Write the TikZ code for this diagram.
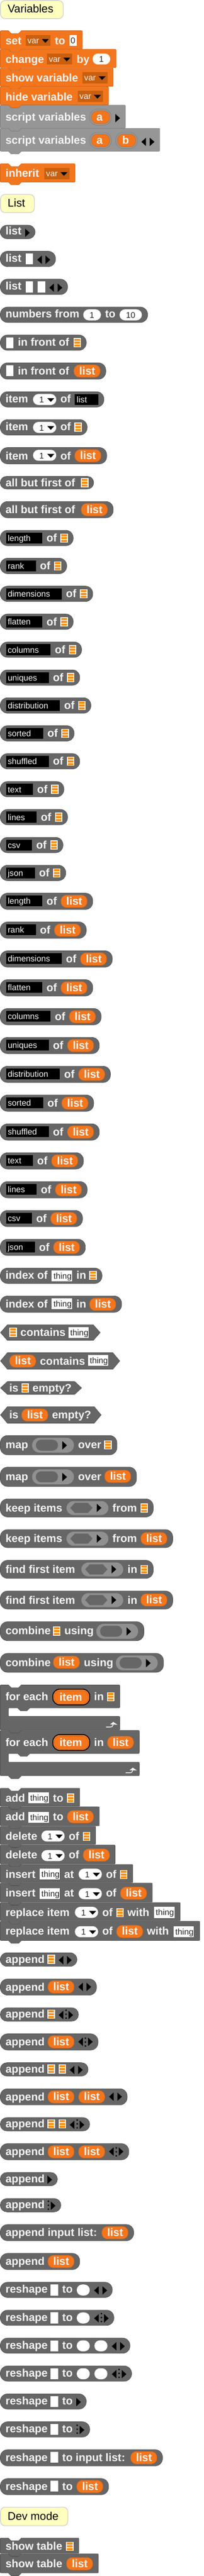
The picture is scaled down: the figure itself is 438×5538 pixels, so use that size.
\documentclass[tikz,border=0pt]{standalone}
\usepackage{fontspec}
\setmainfont{Liberation Sans}
\definecolor{bGray}{HTML}{666666}
\definecolor{bGrayD}{HTML}{555555}
\definecolor{bOrg}{HTML}{F3761D}
\definecolor{bOrgD}{HTML}{D5661A}
\definecolor{bSv}{HTML}{969696}
\definecolor{bSvD}{HTML}{808080}
\definecolor{bSlot}{HTML}{C8600F}
\definecolor{bRing}{HTML}{909090}
\definecolor{bIcon}{HTML}{FF8C00}
\definecolor{bTag}{HTML}{FFFFC0}
\definecolor{bTagD}{HTML}{D2D2D2}
\definecolor{bTxt}{HTML}{F4F4F4}
\newcount\snc
\tikzset{
 lab/.style={anchor=base west,inner sep=0pt,outer sep=0pt,text=bTxt,font=\fontsize{23.6}{24}\selectfont\bfseries},
 labc/.style={anchor=base,inner sep=0pt,outer sep=0pt,text=bTxt,font=\fontsize{23.6}{24}\selectfont\bfseries},
 inw/.style={anchor=base west,inner sep=0pt,outer sep=0pt,text=bTxt,font=\fontsize{18}{20}\selectfont},
 ink/.style={anchor=base west,inner sep=0pt,outer sep=0pt,text=black!85,font=\fontsize{18}{20}\selectfont},
 inc/.style={anchor=base,inner sep=0pt,outer sep=0pt,text=black!85,font=\fontsize{18}{20}\selectfont},
 tagt/.style={anchor=base west,inner sep=0pt,outer sep=0pt,text=black,font=\fontsize{24}{25}\selectfont},
 gb/.style={fill=bGray,draw=bGrayD,line width=0.8pt},
 ob/.style={fill=bOrg,draw=bOrgD,line width=0.8pt},
 sb/.style={fill=bSv,draw=bSvD,line width=0.8pt},
}
% text
\newcommand{\snT}[4]{\global\advance\snc by 1 \node[#1] (t\the\snc) at ({#2},{#3}) {#4};}
\newcommand{\snLab}[3]{\snT{lab}{#1}{#2}{#3}}
% shapes
\newcommand{\snRep}[3]{\pgfmathsetmacro\snr{min(16,(#2-#1)/2)}\draw[gb,rounded corners=\snr pt] (0.5,#1) rectangle (#3,#2);}
\newcommand{\snHex}[3]{\draw[gb,line join=round] (1,{(#1+#2)/2}) -- (16,#1) -- ({#3-15},#1) -- (#3,{(#1+#2)/2}) -- ({#3-15},#2) -- (16,#2) -- cycle;}
\newcommand{\snCmd}[4]{\draw[#1,line join=round] (4.5,#2) -- (18,#2) -- (24,{#2+6}) -- (40,{#2+6}) -- (46,#2) -- ({#4-4},#2) .. controls (#4,#2) .. (#4,{#2+4}) -- (#4,{#3-4}) .. controls (#4,#3) .. ({#4-4},#3) -- (46,#3) -- (40,{#3+6}) -- (24,{#3+6}) -- (18,#3) -- (4.5,#3) .. controls (0.5,#3) .. (0.5,{#3-4}) -- (0.5,{#2+4}) .. controls (0.5,#2) .. (4.5,#2) -- cycle;}
\newcommand{\snCee}[5]{\draw[gb,line join=round] (4.5,#1) -- (18,#1) -- (24,{#1+6}) -- (40,{#1+6}) -- (46,#1) -- ({#5-4},#1) .. controls (#5,#1) .. (#5,{#1+4}) -- (#5,{#2-4}) .. controls (#5,#2) .. ({#5-4},#2) -- (64,#2) -- (58,{#2+6}) -- (44,{#2+6}) -- (38,#2) -- (22,#2) .. controls (18,#2) .. (18,{#2+4}) -- (18,{#3-4}) .. controls (18,#3) .. (22,#3) -- ({#5-4},#3) .. controls (#5,#3) .. (#5,{#3+4}) -- (#5,{#4-4}) .. controls (#5,#4) .. ({#5-4},#4) -- (46,#4) -- (40,{#4+6}) -- (24,{#4+6}) -- (18,#4) -- (4.5,#4) .. controls (0.5,#4) .. (0.5,{#4-4}) -- (0.5,{#1+4}) .. controls (0.5,#1) .. (4.5,#1) -- cycle;
 \draw[bTxt,line width=1.6pt] ({#5-29.5},{#4-6.6}) -- ({#5-20},{#4-6.6}) .. controls ({#5-16},{#4-6.6}) and ({#5-15},{#4-9}) .. ({#5-14},{#4-12});
 \fill[bTxt] ({#5-21},{#4-12}) -- ({#5-14},{#4-17.5}) -- ({#5-5},{#4-11.5}) -- cycle;}
\newcommand{\snTag}[4]{\draw[fill=bTag,draw=bTagD,line width=1.5pt,rounded corners=10pt] (1,#2) rectangle (#1,#3);\snT{tagt}{16.5}{#3-12.6}{#4}}
\newcommand{\snWh}[3]{\fill[white] (#1,#3) rectangle ({#2},{#3+23.7});}
\newcommand{\snThing}[2]{\snWh{#1}{#1+44}{#2}\snT{ink}{#1+4}{#2+18.5}{thing}}
\newcommand{\snIcon}[2]{\fill[white] (#1,#2) rectangle ({#1+16},{#2+19.4});
 \fill[bIcon] ({#1+2},{#2+1.6}) rectangle ({#1+14},{#2+5.8}) ({#1+2},{#2+7.6}) rectangle ({#1+14},{#2+12}) ({#1+2},{#2+13.8}) rectangle ({#1+14},{#2+18});}
\newcommand{\snOp}[2]{\draw[ob,rounded corners=12pt] (#1,#2) rectangle ({#1+56.3},{#2+26.7});\snLab{#1+11.5}{#2+21}{list}}
\newcommand{\snBlk}[3]{\fill[black] (13,#2) rectangle (#1,{#2+23.7});\snT{inw}{16.7}{#2+18.5}{#3}}
\newcommand{\snDD}[2]{\fill[white,rounded corners=11.8pt] (#1,#2) rectangle ({#1+50},{#2+23.7});\snT{inc}{#1+18.5}{#2+19}{1}\fill[black] ({#1+30.7},{#2+9}) -- ({#1+45.7},{#2+9}) -- ({#1+38.2},{#2+17}) -- cycle;}
\newcommand{\snPill}[3]{\fill[white,rounded corners=11.8pt] (#1,#3) rectangle (#2,{#3+23.7});}
\newcommand{\snVar}[2]{\fill[bSlot] (#1,#2) rectangle ({#1+54},{#2+24});\snT{inw}{#1+4}{#2+18.5}{var}\fill[black] ({#1+35},{#2+9}) -- ({#1+50},{#2+9}) -- ({#1+42.5},{#2+17}) -- cycle;}
\newcommand{\snLa}[2]{\fill[black] (#1,{#2+9}) -- ({#1+10},#2) -- ({#1+10},{#2+18}) -- cycle;}
\newcommand{\snRa}[2]{\fill[black] ({#1+10},{#2+9}) -- (#1,#2) -- (#1,{#2+18}) -- cycle;}
\newcommand{\snDots}[2]{\fill[black] (#1,#2) circle (1.9) (#1,{#2+8.4}) circle (1.9) (#1,{#2+16.8}) circle (1.9);}
\newcommand{\snUp}[3]{\draw[fill=bSv,draw=bSvD,line width=0.8pt,rounded corners=17pt] (#1,#2) rectangle ({#1+47},{#2+35});
 \draw[ob,rounded corners=13pt] ({#1+4},{#2+4}) rectangle ({#1+43.5},{#2+31});\snT{labc}{#1+21.5}{#2+25.5}{#3}}
\newcommand{\snRingO}[2]{\fill[bRing,rounded corners=16pt] (#1,#2) rectangle ({#1+90},{#2+32});
 \fill[bGray,rounded corners=11.8pt] ({#1+8},{#2+4}) rectangle ({#1+55.7},{#2+27.7});\snRa{#1+65}{#2+7.3}}
\newcommand{\snRingH}[2]{\fill[bRing,rounded corners=15pt] (#1,#2) rectangle ({#1+90},{#2+30});
 \fill[bGray] ({#1+8},{#2+14.8}) -- ({#1+18},{#2+4}) -- ({#1+46},{#2+4}) -- ({#1+56},{#2+14.8}) -- ({#1+46},{#2+25.7}) -- ({#1+18},{#2+25.7}) -- cycle;\snRa{#1+65}{#2+5.7}}
\newcommand{\snEach}[1]{\draw[fill=bOrg,draw=black,line width=1.8pt,rounded corners=15pt] (113.5,#1) rectangle (193,{#1+34});
 \draw[ob,rounded corners=13pt] (116.7,{#1+4}) rectangle (190,{#1+31.4});\snLab{128}{#1+25.4}{item}}
% rows
\newcommand{\snOfIcon}[3]{\snRep{#1}{#1+33.3}{#2+66.5}\snBlk{#2}{#1+5}{#3}\snLab{#2+9}{#1+24.7}{of}\snIcon{#2+39}{#1+7}}
\newcommand{\snOfList}[3]{\snRep{#1}{#1+35.3}{#2+108.5}\snBlk{#2}{#1+5}{#3}\snLab{#2+9}{#1+26}{of}\snOp{#2+40}{#1+4.3}}
\begin{document}
\begin{tikzpicture}[x=1pt,y=-1pt]
\useasboundingbox (0,0) rectangle (438,5538);
\fill[white] (0,0) rectangle (438,5538);
% ---- Variables
\snTag{136}{1}{40}{Variables}
\snCmd{ob}{66}{105.5}{177}\snLab{12}{95.7}{set}\snVar{55}{75}\snLab{118}{95.7}{to}\fill[white] (149,75) rectangle (165,99);\snT{inc}{157}{94}{0}
\snCmd{ob}{106}{145.5}{249.5}\snLab{12}{136}{change}\snVar{101}{115}\snLab{165}{136}{by}\snPill{199}{237}{115}\snT{inc}{218}{134}{1}
\snCmd{ob}{146.5}{185.5}{243.5}\snLab{12}{176}{show variable}\snVar{177}{155}
\snCmd{ob}{186.5}{225.5}{233.5}\snLab{12}{216}{hide variable}\snVar{167}{195}
\snCmd{sb}{226}{275.5}{269.5}\snLab{12}{259.5}{script variables}\snUp{192.5}{234.5}{a}\snRa{248}{245}
\snCmd{sb}{276}{325}{343.5}\snLab{12}{309.5}{script variables}\snUp{192.5}{284.5}{a}\snUp{248.5}{284.5}{b}\snLa{304}{296}\snRa{322}{296}
\snCmd{ob}{352}{391.5}{161.5}\snLab{12}{381}{inherit}\snVar{95}{361}
\snTag{74}{418}{457}{List}
% ---- list
\snRep{484}{513.3}{75.5}\snLab{12}{505}{list}\snRa{54}{491.5}
\snRep{540}{573.3}{119.5}\snLab{12}{563.3}{list}\snWh{55}{71}{545}\snLa{80}{549.5}\snRa{98}{549.5}
\snRep{600}{633.3}{145.5}\snLab{12}{623.3}{list}\snWh{55}{71}{605}\snWh{81}{97}{605}\snLa{106}{609.5}\snRa{124}{609.5}
\snRep{660}{693.3}{317.5}\snLab{12}{683.3}{numbers from}\snPill{179}{217}{665}\snT{inc}{197.5}{684}{1}\snLab{226}{683.3}{to}\snPill{257}{305}{665}\snT{inc}{281}{684}{10}
\snRep{720}{753.3}{185.5}\snWh{13}{29}{725}\snLab{38.5}{743.3}{in front of}\snIcon{158}{727}
\snRep{780}{815.3}{227.5}\snWh{13}{29}{785}\snLab{38.5}{805.3}{in front of}\snOp{159}{784.3}
\snRep{842}{875.3}{223.5}\snLab{12}{865.3}{item}\snDD{71}{847}\snLab{130}{865.3}{of}\fill[black] (161,847) rectangle (211,870.7);\snT{inw}{165}{865.5}{list}
\snRep{902}{935.3}{187.5}\snLab{12}{925.3}{item}\snDD{71}{907}\snLab{130}{925.3}{of}\snIcon{160}{908.3}
\snRep{962}{997.3}{229.5}\snLab{12}{988}{item}\snDD{71}{967}\snLab{130}{988}{of}\snOp{160.7}{966.3}
\snRep{1024}{1051.3}{201.5}\snLab{12}{1046}{all but first of}\snIcon{174}{1028}
\snRep{1078}{1113.3}{243.5}\snLab{12}{1104}{all but first of}\snOp{174.7}{1082.3}
% ---- X of icon
\snOfIcon{1140}{91}{length}
\snOfIcon{1200}{77}{rank}
\snOfIcon{1260}{133}{dimensions}
\snOfIcon{1320}{91}{flatten}
\snOfIcon{1380}{109}{columns}
\snOfIcon{1440}{105}{uniques}
\snOfIcon{1500}{129}{distribution}
\snOfIcon{1560}{93}{sorted}
\snOfIcon{1620}{105}{shuffled}
\snOfIcon{1680}{71}{text}
\snOfIcon{1740}{79}{lines}
\snOfIcon{1800}{69}{csv}
\snOfIcon{1860}{75}{json}
% ---- X of list
\snOfList{1920}{91}{length}
\snOfList{1982}{77}{rank}
\snOfList{2044}{133}{dimensions}
\snOfList{2106}{91}{flatten}
\snOfList{2168}{109}{columns}
\snOfList{2230}{105}{uniques}
\snOfList{2292}{129}{distribution}
\snOfList{2354}{93}{sorted}
\snOfList{2416}{105}{shuffled}
\snOfList{2478}{71}{text}
\snOfList{2540}{79}{lines}
\snOfList{2602}{69}{csv}
\snOfList{2664}{75}{json}
% ---- index / contains / empty
\snRep{2726}{2759.3}{219.5}\snLab{12}{2750}{index of}\snThing{111}{2731}\snLab{164.3}{2750}{in}\snIcon{192}{2732.3}
\snRep{2786}{2821.3}{261.5}\snLab{12}{2812}{index of}\snThing{111}{2791}\snLab{164.3}{2812}{in}\snOp{192.7}{2790.7}
\snHex{2848}{2881.7}{215.5}\snIcon{20}{2854.3}\snLab{44}{2872}{contains}\snThing{147}{2853}
\snHex{2908}{2943.7}{257.5}\snOp{20.7}{2912.7}\snLab{86}{2934}{contains}\snThing{189}{2913}
\snHex{2970}{2997.7}{175.5}\snLab{20}{2991.7}{is}\snIcon{46}{2974.3}\snLab{70}{2991.7}{empty?}
\snHex{3024}{3059.7}{217.5}\snLab{20}{3050}{is}\snOp{46.7}{3028.7}\snLab{112}{3050}{empty?}
% ---- map etc
\snRep{3086}{3127.7}{251.5}\snLab{12}{3114.3}{map}\snRingO{69}{3091}\snLab{168}{3114.3}{over}\snIcon{224}{3096.3}
\snRep{3154}{3195.7}{293.5}\snLab{12}{3182.3}{map}\snRingO{69}{3159}\snLab{168}{3182.3}{over}\snOp{225}{3160.7}
\snRep{3222.3}{3261.3}{329.5}\snLab{12}{3250}{keep items}\snRingH{143}{3227}\snLab{242}{3250}{from}\snIcon{302}{3232.3}
\snRep{3288.3}{3327.3}{371.5}\snLab{12}{3316}{keep items}\snRingH{143}{3293}\snLab{242}{3316}{from}\snOp{302.7}{3294.3}
\snRep{3354.3}{3393.3}{329.5}\snLab{12}{3382}{find first item}\snRingH{175}{3359}\snLab{274.3}{3382}{in}\snIcon{302}{3364.3}
\snRep{3420.3}{3459.3}{371.5}\snLab{12}{3448}{find first item}\snRingH{175}{3425}\snLab{274.3}{3448}{in}\snOp{302.7}{3426.3}
\snRep{3486.3}{3527.3}{309.5}\snLab{12}{3514}{combine}\snIcon{114}{3496.7}\snLab{138.5}{3514}{using}\snRingO{207}{3491}
\snRep{3554.3}{3595.3}{351.5}\snLab{12}{3582}{combine}\snOp{114.7}{3560.3}\snLab{180.5}{3582}{using}\snRingO{249}{3559}
% ---- for each
\snCee{3622.3}{3671.7}{3690}{3719.3}{257.5}\snLab{12}{3655.7}{for each}\snEach{3631.3}\snLab{202.3}{3655.7}{in}\snIcon{230}{3638}
\snCee{3720}{3769.7}{3788.3}{3817.7}{299.5}\snLab{12}{3753.7}{for each}\snEach{3729}\snLab{202.3}{3753.7}{in}\snOp{231}{3732.7}
% ---- commands
\snCmd{gb}{3844.3}{3883.3}{171.5}\snLab{12}{3873.7}{add}\snThing{61}{3853.3}\snLab{114}{3873.7}{to}\snIcon{144}{3856}
\snCmd{gb}{3884.3}{3925.3}{213.5}\snLab{12}{3914}{add}\snThing{61}{3895.3}\snLab{114}{3914}{to}\snOp{144.7}{3892.3}
\snCmd{gb}{3926.3}{3965.3}{205.5}\snLab{12}{3955.7}{delete}\snDD{89}{3935.3}\snLab{148}{3955.7}{of}\snIcon{178}{3938.3}
\snCmd{gb}{3966.3}{4007.3}{247.5}\snLab{12}{3995.7}{delete}\snDD{89}{3977.3}\snLab{148}{3995.7}{of}\snOp{179}{3974.7}
\snCmd{gb}{4008.3}{4047.3}{285.5}\snLab{12}{4037.7}{insert}\snThing{85}{4017.3}\snLab{138}{4037.7}{at}\snDD{169}{4017.3}\snLab{228}{4037.7}{of}\snIcon{258}{4020.3}
\snCmd{gb}{4048.3}{4089.3}{327.5}\snLab{12}{4077.7}{insert}\snThing{85}{4059.3}\snLab{138}{4077.7}{at}\snDD{169}{4059.3}\snLab{228}{4077.7}{of}\snOp{259}{4056.7}
\snCmd{gb}{4090.3}{4129.3}{387.5}\snLab{12}{4119.7}{replace item}\snDD{161}{4099.3}\snLab{220}{4119.7}{of}\snIcon{250}{4102.3}\snLab{274}{4119.7}{with}\snThing{331}{4099.3}
\snCmd{gb}{4130.3}{4171.7}{429.5}\snLab{12}{4160}{replace item}\snDD{161}{4141}\snLab{220}{4160}{of}\snOp{250.7}{4139}\snLab{316}{4160}{with}\snThing{373}{4141}
% ---- append
\snRep{4198}{4227.3}{165.5}\snLab{12}{4220}{append}\snIcon{102}{4202.3}\snLa{126}{4205}\snRa{144}{4205}
\snRep{4254.3}{4289.3}{207.5}\snLab{12}{4280}{append}\snOp{103}{4258.3}\snLa{168.3}{4262.5}\snRa{186}{4262.5}
\snRep{4316.3}{4345.3}{168.8}\snLab{12}{4338}{append}\snIcon{102}{4320.3}\snLa{126}{4323}\snDots{142}{4321.7}\snRa{147.3}{4323}
\snRep{4372.3}{4407.3}{210.8}\snLab{12}{4398}{append}\snOp{103}{4376.3}\snLa{168.3}{4380.5}\snDots{183.7}{4381.7}\snRa{189.3}{4380.5}
\snRep{4434.3}{4463.3}{189.5}\snLab{12}{4456}{append}\snIcon{102}{4438.3}\snIcon{126}{4438.3}\snLa{150}{4441}\snRa{168}{4441}
\snRep{4490.3}{4525.3}{273.5}\snLab{12}{4516}{append}\snOp{103}{4494.6}\snOp{169}{4494.6}\snLa{234.3}{4498.5}\snRa{252.3}{4498.5}
\snRep{4552.3}{4581.3}{193}\snLab{12}{4574}{append}\snIcon{102}{4556.3}\snIcon{126}{4556.3}\snLa{150}{4559}\snDots{166}{4557.7}\snRa{171.3}{4559}
\snRep{4608.3}{4643.3}{277}\snLab{12}{4634}{append}\snOp{103}{4612.6}\snOp{169}{4612.6}\snLa{234.3}{4616.5}\snDots{250}{4617.7}\snRa{255.3}{4616.5}
\snRep{4670.3}{4699.3}{123.5}\snLab{12}{4692}{append}\snRa{102}{4677}
\snRep{4726.3}{4755.3}{131}\snLab{12}{4748}{append}\snDots{104}{4732.5}\snRa{109.3}{4733}
\snRep{4782.3}{4817.3}{287.5}\snLab{12}{4808}{append input list:}\snOp{219}{4786.6}
\snRep{4844.3}{4879.3}{171.5}\snLab{12}{4870}{append}\snOp{103}{4848.6}
% ---- reshape
\snRep{4906.3}{4939.3}{241.5}\snLab{12}{4929.7}{reshape}\snWh{109}{125}{4911.3}\snLab{134}{4929.7}{to}\snPill{165}{193}{4911.3}\snLa{202.3}{4915}\snRa{220.3}{4915}
\snRep{4966.3}{4999.3}{245}\snLab{12}{4989.7}{reshape}\snWh{109}{125}{4971.3}\snLab{134}{4989.7}{to}\snPill{165}{193}{4971.3}\snLa{202.3}{4975}\snDots{218}{4974}\snRa{223.7}{4975}
\snRep{5026.3}{5059.3}{279.5}\snLab{12}{5049.7}{reshape}\snWh{109}{125}{5031.3}\snLab{134}{5049.7}{to}\snPill{165}{193}{5031.3}\snPill{203}{231}{5031.3}\snLa{240.3}{5035}\snRa{258.3}{5035}
\snRep{5086.3}{5119.3}{283}\snLab{12}{5109.7}{reshape}\snWh{109}{125}{5091.3}\snLab{134}{5109.7}{to}\snPill{165}{193}{5091.3}\snPill{203}{231}{5091.3}\snLa{240.3}{5095}\snDots{256}{5094}\snRa{261.7}{5095}
\snRep{5146.3}{5179.3}{185.5}\snLab{12}{5169.7}{reshape}\snWh{109}{125}{5151.3}\snLab{134}{5169.7}{to}\snRa{164}{5155}
\snRep{5206.3}{5239.3}{193}\snLab{12}{5229.7}{reshape}\snWh{109}{125}{5211.3}\snLab{134}{5229.7}{to}\snDots{166}{5214}\snRa{171.3}{5215}
\snRep{5266.3}{5301.3}{349.5}\snLab{12}{5291.3}{reshape}\snWh{109}{125}{5271}\snLab{134}{5291.3}{to input list:}\snOp{281}{5270.3}
\snRep{5328.3}{5363.3}{233.5}\snLab{12}{5353.3}{reshape}\snWh{109}{125}{5333}\snLab{134}{5353.3}{to}\snOp{165}{5332.3}
% ---- Dev mode
\snTag{146}{5390}{5430}{Dev mode}
\snCmd{gb}{5456.3}{5489.3}{169.5}\snLab{12}{5482}{show table}\snIcon{142}{5464.3}
\snCmd{gb}{5490.3}{5531.3}{211.5}\snLab{12}{5520}{show table}\snOp{143}{5498.3}
\end{tikzpicture}
\end{document}
